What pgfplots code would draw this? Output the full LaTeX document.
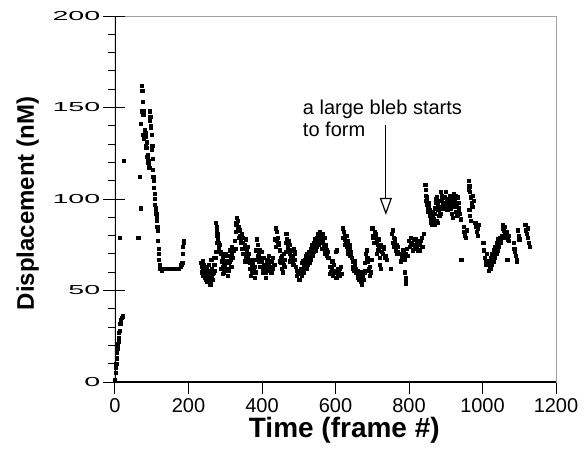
\documentclass[border=0pt]{standalone}
\usepackage{fontspec}
\setmainfont{Liberation Sans}
\usepackage{graphicx}
\usepackage{pgfplots}
\pgfplotsset{compat=1.18}
\usetikzlibrary{arrows.meta}

\newcommand\wide[1]{\scalebox{2.2}[1]{#1}}

\begin{document}
\begin{tikzpicture}
  \path[use as bounding box] (-115pt,-66pt) rectangle (473pt,382pt);
  \begin{axis}[
    scale only axis, width=441pt, height=366pt,
    xmin=0, xmax=1200, ymin=0, ymax=200,
    axis line style={gray!75, line width=0.6pt},
    xtick={0,200,...,1200}, ytick={0,50,...,200},
    xticklabels={0,200,400,600,800,1000,1200},
    yticklabels={\wide{0},\wide{50},\wide{100},\wide{150},\wide{200}},
    minor y tick num=4,
    xtick pos=bottom, ytick pos=left,
    tick align=outside,
    major tick length=11.5pt, minor tick length=7pt,
    tick style={black, line width=1pt},
    extra y ticks={0,50,...,200},
    extra y tick labels={},
    extra y tick style={tick align=inside, major tick length=10pt},
    xticklabel style={font=\fontsize{20}{20}\selectfont, anchor=north, inner sep=0pt, yshift=-4.5pt},
    yticklabel style={font=\fontsize{13}{13}\selectfont, anchor=east, inner sep=0pt, xshift=-3pt},
    xlabel={\bfseries Time (frame \#)},
    ylabel={\bfseries Displacement (nM)},
    xlabel style={font=\fontsize{28}{28}\selectfont, at={(axis description cs:0.52,-0.152)}, anchor=base},
    ylabel style={font=\fontsize{24}{24}\selectfont, at={(axis description cs:-0.184,0.488)}, anchor=base},
  ]
    \addplot[only marks, mark=square*, mark size=1.6pt, black] coordinates {
      (0,1) (1,5) (2,8) (3,10) (4,13) (5,16) (6,18) (7,20) (8,21) (9,22)
      (10,24) (11,27) (12,28) (14,32) (16,34) (18,35) (20,36)
      (12,79) (23,121) (63,79)
      (68,112) (70,95) (71,141) (72,148) (73,162) (74,159) (75,153) (76,147)
      (76,135) (77,146) (78,148) (79,133) (80,138) (81,135) (82,136) (83,134)
      (84,129) (85,128) (86,131) (87,123) (88,122) (89,120) (90,124) (91,119)
      (92,121) (93,117) (94,143) (95,148) (96,145) (97,140) (98,139) (99,127)
      (100,135) (101,129) (102,122) (103,116) (104,112) (105,110) (106,106)
      (107,103) (108,100) (109,97) (110,95) (111,93) (112,92) (113,90) (114,88)
      (115,85) (116,83) (117,77) (118,73) (119,70) (120,67) (121,64) (122,62)
      (125,62) (128,61) (133,62) (137,62) (141,62) (152,62) (156,62) (160,62)
      (163,62) (166,62) (170,62) (174,62) (178,63) (180,64) (183,65) (184,70)
      (185,74) (186,77) (188,76)
      (234,65) (235,60) (236,63) (238,66) (239,58) (240,61) (242,64) (243,57)
      (244,60) (246,62) (247,56) (248,58) (250,63) (251,55) (252,59) (254,61)
      (255,64) (256,57) (258,60) (259,53) (260,55) (262,58) (262,67) (264,62)
      (265,59) (266,56) (268,60) (268,68) (270,64) (272,61) (273,71) (274,68)
      (275,87) (276,85) (276,80) (277,83) (278,81) (278,76) (279,79) (280,78)
      (281,76) (282,74) (283,73) (284,75) (286,71)
      (288,70) (289,62) (290,66) (292,63) (293,68) (294,59) (296,60) (297,65)
      (298,64) (300,70) (301,61) (302,66) (304,62) (305,69) (306,58) (308,65)
      (309,61) (310,69) (312,72) (313,66) (314,67) (316,63) (317,70) (318,74)
      (320,68) (322,72)
      (326,77) (327,73) (328,82) (329,86) (330,87) (332,90) (333,84) (334,88)
      (336,85) (337,79) (338,83) (340,80) (341,76) (342,78) (344,81) (345,73)
      (346,76) (348,79) (349,70) (350,73) (352,70) (353,66) (354,75) (356,78)
      (357,68) (358,72) (360,68) (361,74) (362,66) (364,70) (366,65)
      (368,62) (369,67) (370,58) (372,60) (373,64) (374,65) (376,67) (377,61)
      (378,62) (380,57) (381,63) (382,60)
      (384,72) (385,67) (386,78) (388,75) (389,69) (390,70) (392,66) (393,72)
      (394,63) (396,68) (398,71)
      (400,66) (401,60) (403,62) (404,68) (406,64) (407,61) (409,60) (410,57)
      (412,63) (413,66) (415,67) (416,62) (418,65) (419,69) (421,61) (424,63)
      (425,60) (427,66) (428,62) (430,68) (431,64) (433,64)
      (436,78) (437,74) (438,84) (440,82) (441,77) (442,79) (444,76) (446,75)
      (448,72) (449,66) (450,68) (452,65) (453,69) (454,62) (456,60) (457,66)
      (458,64) (460,70) (461,63) (462,67)
      (464,76) (465,71) (466,81) (468,78) (469,72) (470,74) (472,71) (473,77)
      (474,75) (476,70) (477,66) (478,68) (480,72) (481,68) (482,66) (484,69)
      (485,64) (486,73) (488,67) (489,71) (490,70)
      (492,63) (495,58) (496,61) (498,60) (501,56) (502,60) (504,59)
      (506,62) (507,58) (508,65) (510,61) (512,66) (513,63) (514,60) (516,67)
      (518,64) (519,69) (520,62) (522,66) (523,70) (524,64) (526,68) (528,71)
      (529,65) (530,69) (532,73) (533,67) (534,71) (536,75) (537,69) (538,72)
      (540,76) (541,71) (542,74) (544,78) (545,72) (546,75) (548,79) (549,74)
      (550,77) (552,81) (553,75) (554,78) (556,82) (558,79) (560,76) (562,73)
      (564,81) (565,76) (566,78) (568,75) (569,79) (570,72) (572,70) (573,75)
      (574,74) (576,69) (577,72) (578,71) (580,68)
      (584,63) (585,59) (587,60) (590,62) (591,66) (593,58) (596,64) (597,60)
      (599,61) (600,71) (602,57) (603,72) (605,62) (606,58) (608,60) (611,58)
      (612,62) (614,63) (617,59)
      (620,84) (621,79) (622,82) (624,80) (625,75) (626,78) (628,76) (629,80)
      (630,74) (632,77) (633,70) (634,72) (636,70) (637,75) (638,73) (640,69)
      (642,71) (644,68)
      (646,66) (647,62) (648,63) (650,61) (651,66) (652,64) (654,60) (656,62)
      (660,61) (661,57) (662,58) (664,56) (665,60) (666,59) (668,55) (670,57)
      (671,53) (672,54) (674,58) (676,56) (678,60)
      (680,65) (681,61) (682,70) (684,72) (685,66) (686,68) (688,66) (689,61)
      (690,62) (692,58) (694,63) (695,67) (696,60) (698,67)
      (700,84) (701,79) (702,80) (704,76)
      (706,82) (708,79) (710,81) (712,77) (712,70) (714,75) (716,78) (716,72)
      (718,74) (720,68) (720,64) (722,62) (724,75) (726,71) (728,70) (730,74)
      (732,73) (734,68) (736,69) (740,67) (750,62)
      (754,81) (755,76) (756,83) (758,79) (759,74) (760,76) (762,78) (763,72)
      (764,73) (766,75) (767,70) (768,71) (770,74) (772,70)
      (776,70) (778,66) (780,68) (782,71) (784,72) (786,69) (788,67) (789,60)
      (790,57) (791,55) (792,54) (792,70) (794,73) (796,69)
      (800,77) (802,74) (804,79) (806,76) (808,75) (810,72) (812,78) (814,75)
      (816,74) (818,78) (820,76) (822,73) (824,72) (826,77) (828,75) (830,72)
      (832,77) (834,79) (836,74) (841,81)
      (844,108) (845,105) (846,102) (847,99) (848,97) (849,101) (850,95)
      (852,93) (853,98) (854,96) (856,91) (857,94) (858,89) (858,87) (860,92)
      (862,88) (862,86) (864,90) (865,93) (866,87) (866,88) (868,89) (869,95)
      (870,92) (870,86) (872,95) (873,100) (874,98) (874,88) (876,101) (877,94)
      (878,97) (878,87) (880,94) (881,99) (882,91) (884,96) (885,92) (886,99)
      (887,104) (888,102) (890,100) (891,95) (892,97) (894,95) (895,101)
      (896,98) (898,101) (899,96) (900,104) (902,100) (903,94) (904,97)
      (906,94) (907,100) (908,99) (910,102) (911,96) (912,98) (914,95)
      (915,101) (916,92) (918,96) (919,90) (920,100) (922,103) (923,97)
      (924,99) (926,96) (927,102) (928,93) (930,97) (931,91) (932,101)
      (934,98) (935,93) (936,95) (938,92) (940,89) (942,67)
      (948,85) (950,82) (952,80) (954,79) (956,83)
      (962,110) (963,105) (964,107) (964,94) (966,104) (966,91) (968,101)
      (968,88) (970,98) (972,96) (974,102) (976,99)
      (980,87) (982,85) (984,82) (986,80) (988,84) (990,86)
      (1002,76) (1004,72) (1006,68) (1008,64) (1010,66) (1012,70) (1014,65)
      (1016,64) (1017,61) (1018,66) (1020,65) (1021,62) (1022,68) (1024,67)
      (1025,64) (1026,70) (1028,69) (1029,66) (1030,72) (1032,71) (1033,68)
      (1034,74) (1036,73) (1037,70) (1038,76) (1040,75) (1041,72) (1042,78)
      (1044,77) (1045,74) (1046,79) (1048,76) (1050,78) (1052,80)
      (1054,84) (1055,80) (1056,86) (1058,83) (1060,85) (1061,79) (1062,81)
      (1064,79) (1066,82) (1067,67) (1068,78) (1070,80) (1072,77)
      (1084,76) (1086,73) (1088,71) (1090,69) (1092,67) (1093,66)
      (1096,83) (1098,80) (1100,78)
      (1116,86) (1118,83) (1120,81) (1122,79) (1124,84) (1126,76) (1128,74)
    };
    \draw[black, line width=1.4pt] (axis cs:0,200) -- (axis cs:0,0) -- (axis cs:1200,0);
    \node[anchor=base west, inner sep=0pt, font=\fontsize{20}{20}\selectfont]
      at (axis cs:511,146) {a large bleb starts};
    \node[anchor=base west, inner sep=0pt, font=\fontsize{20}{20}\selectfont]
      at (axis cs:511,134) {to form};
    \draw[line width=1.2pt, -{Triangle[open, length=17pt, width=12pt]}]
      (axis cs:737,140.4) -- (axis cs:737,91.3);
  \end{axis}
\end{tikzpicture}
\end{document}
